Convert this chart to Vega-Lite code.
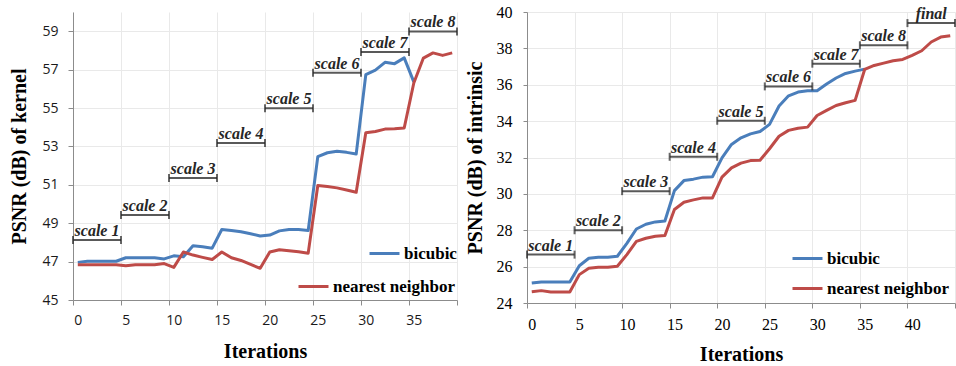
{
  "$schema": "https://vega.github.io/schema/vega-lite/v6.json",
  "background": "white",
  "padding": {"left": 9, "top": 4, "right": 0, "bottom": 0},
  "autosize": {"type": "pad"},
  "bounds": "flush",
  "spacing": 70,
  "resolve": {"scale": {"color": "independent"}},
  "config": {
    "view": {"stroke": null},
    "axis": {
      "domainColor": "#8c8c8c",
      "tickColor": "#8c8c8c",
      "gridColor": "#e9e9e9",
      "gridWidth": 1,
      "labelColor": "#1a1a1a",
      "titleFont": "Liberation Serif",
      "titleFontWeight": "bold",
      "titleFontSize": 20,
      "titleColor": "#000000",
      "labelOverlap": false,
      "labelFlush": false,
      "labelBound": false
    },
    "legend": {
      "title": null,
      "symbolType": "stroke",
      "symbolSize": 900,
      "symbolStrokeWidth": 3,
      "labelFont": "Liberation Serif",
      "labelFontWeight": "bold",
      "labelFontSize": 17,
      "labelColor": "#000000",
      "labelOffset": 3,
      "padding": 0,
      "orient": "none"
    }
  },
  "datasets": {
    "kernel": [
      {"iteration": 0, "method": "bicubic", "psnr": 46.96},
      {"iteration": 1, "method": "bicubic", "psnr": 47.02},
      {"iteration": 2, "method": "bicubic", "psnr": 47.02},
      {"iteration": 3, "method": "bicubic", "psnr": 47.02},
      {"iteration": 4, "method": "bicubic", "psnr": 47.02},
      {"iteration": 5, "method": "bicubic", "psnr": 47.2},
      {"iteration": 6, "method": "bicubic", "psnr": 47.2},
      {"iteration": 7, "method": "bicubic", "psnr": 47.2},
      {"iteration": 8, "method": "bicubic", "psnr": 47.2},
      {"iteration": 9, "method": "bicubic", "psnr": 47.14},
      {"iteration": 10, "method": "bicubic", "psnr": 47.3},
      {"iteration": 11, "method": "bicubic", "psnr": 47.25},
      {"iteration": 12, "method": "bicubic", "psnr": 47.82},
      {"iteration": 13, "method": "bicubic", "psnr": 47.77},
      {"iteration": 14, "method": "bicubic", "psnr": 47.7},
      {"iteration": 15, "method": "bicubic", "psnr": 48.67},
      {"iteration": 16, "method": "bicubic", "psnr": 48.62},
      {"iteration": 17, "method": "bicubic", "psnr": 48.55},
      {"iteration": 18, "method": "bicubic", "psnr": 48.45},
      {"iteration": 19, "method": "bicubic", "psnr": 48.33},
      {"iteration": 20, "method": "bicubic", "psnr": 48.38},
      {"iteration": 21, "method": "bicubic", "psnr": 48.6},
      {"iteration": 22, "method": "bicubic", "psnr": 48.67},
      {"iteration": 23, "method": "bicubic", "psnr": 48.67},
      {"iteration": 24, "method": "bicubic", "psnr": 48.62},
      {"iteration": 25, "method": "bicubic", "psnr": 52.47},
      {"iteration": 26, "method": "bicubic", "psnr": 52.67},
      {"iteration": 27, "method": "bicubic", "psnr": 52.75},
      {"iteration": 28, "method": "bicubic", "psnr": 52.69},
      {"iteration": 29, "method": "bicubic", "psnr": 52.6},
      {"iteration": 30, "method": "bicubic", "psnr": 56.74},
      {"iteration": 31, "method": "bicubic", "psnr": 56.97},
      {"iteration": 32, "method": "bicubic", "psnr": 57.38},
      {"iteration": 33, "method": "bicubic", "psnr": 57.31},
      {"iteration": 34, "method": "bicubic", "psnr": 57.61},
      {"iteration": 35, "method": "bicubic", "psnr": 56.36},
      {"iteration": 0, "method": "nearest neighbor", "psnr": 46.84},
      {"iteration": 1, "method": "nearest neighbor", "psnr": 46.84},
      {"iteration": 2, "method": "nearest neighbor", "psnr": 46.84},
      {"iteration": 3, "method": "nearest neighbor", "psnr": 46.84},
      {"iteration": 4, "method": "nearest neighbor", "psnr": 46.84},
      {"iteration": 5, "method": "nearest neighbor", "psnr": 46.78},
      {"iteration": 6, "method": "nearest neighbor", "psnr": 46.83},
      {"iteration": 7, "method": "nearest neighbor", "psnr": 46.84},
      {"iteration": 8, "method": "nearest neighbor", "psnr": 46.84},
      {"iteration": 9, "method": "nearest neighbor", "psnr": 46.9},
      {"iteration": 10, "method": "nearest neighbor", "psnr": 46.7},
      {"iteration": 11, "method": "nearest neighbor", "psnr": 47.5},
      {"iteration": 12, "method": "nearest neighbor", "psnr": 47.34},
      {"iteration": 13, "method": "nearest neighbor", "psnr": 47.22},
      {"iteration": 14, "method": "nearest neighbor", "psnr": 47.11},
      {"iteration": 15, "method": "nearest neighbor", "psnr": 47.5},
      {"iteration": 16, "method": "nearest neighbor", "psnr": 47.2},
      {"iteration": 17, "method": "nearest neighbor", "psnr": 47.06},
      {"iteration": 18, "method": "nearest neighbor", "psnr": 46.85},
      {"iteration": 19, "method": "nearest neighbor", "psnr": 46.65},
      {"iteration": 20, "method": "nearest neighbor", "psnr": 47.5},
      {"iteration": 21, "method": "nearest neighbor", "psnr": 47.62},
      {"iteration": 22, "method": "nearest neighbor", "psnr": 47.56},
      {"iteration": 23, "method": "nearest neighbor", "psnr": 47.51},
      {"iteration": 24, "method": "nearest neighbor", "psnr": 47.44},
      {"iteration": 25, "method": "nearest neighbor", "psnr": 50.96},
      {"iteration": 26, "method": "nearest neighbor", "psnr": 50.91},
      {"iteration": 27, "method": "nearest neighbor", "psnr": 50.84},
      {"iteration": 28, "method": "nearest neighbor", "psnr": 50.73},
      {"iteration": 29, "method": "nearest neighbor", "psnr": 50.61},
      {"iteration": 30, "method": "nearest neighbor", "psnr": 53.71},
      {"iteration": 31, "method": "nearest neighbor", "psnr": 53.78},
      {"iteration": 32, "method": "nearest neighbor", "psnr": 53.9},
      {"iteration": 33, "method": "nearest neighbor", "psnr": 53.92},
      {"iteration": 34, "method": "nearest neighbor", "psnr": 53.96},
      {"iteration": 35, "method": "nearest neighbor", "psnr": 56.3},
      {"iteration": 36, "method": "nearest neighbor", "psnr": 57.6},
      {"iteration": 37, "method": "nearest neighbor", "psnr": 57.87},
      {"iteration": 38, "method": "nearest neighbor", "psnr": 57.74},
      {"iteration": 39, "method": "nearest neighbor", "psnr": 57.87}
    ],
    "intrinsic": [
      {"iteration": 0, "method": "bicubic", "psnr": 25.1},
      {"iteration": 1, "method": "bicubic", "psnr": 25.16},
      {"iteration": 2, "method": "bicubic", "psnr": 25.16},
      {"iteration": 3, "method": "bicubic", "psnr": 25.16},
      {"iteration": 4, "method": "bicubic", "psnr": 25.16},
      {"iteration": 5, "method": "bicubic", "psnr": 26.05},
      {"iteration": 6, "method": "bicubic", "psnr": 26.46},
      {"iteration": 7, "method": "bicubic", "psnr": 26.51},
      {"iteration": 8, "method": "bicubic", "psnr": 26.51},
      {"iteration": 9, "method": "bicubic", "psnr": 26.57},
      {"iteration": 10, "method": "bicubic", "psnr": 27.28},
      {"iteration": 11, "method": "bicubic", "psnr": 28.07},
      {"iteration": 12, "method": "bicubic", "psnr": 28.33},
      {"iteration": 13, "method": "bicubic", "psnr": 28.46},
      {"iteration": 14, "method": "bicubic", "psnr": 28.51},
      {"iteration": 15, "method": "bicubic", "psnr": 30.18},
      {"iteration": 16, "method": "bicubic", "psnr": 30.73},
      {"iteration": 17, "method": "bicubic", "psnr": 30.81},
      {"iteration": 18, "method": "bicubic", "psnr": 30.92},
      {"iteration": 19, "method": "bicubic", "psnr": 30.94},
      {"iteration": 20, "method": "bicubic", "psnr": 31.98},
      {"iteration": 21, "method": "bicubic", "psnr": 32.72},
      {"iteration": 22, "method": "bicubic", "psnr": 33.08},
      {"iteration": 23, "method": "bicubic", "psnr": 33.3},
      {"iteration": 24, "method": "bicubic", "psnr": 33.43},
      {"iteration": 25, "method": "bicubic", "psnr": 33.82},
      {"iteration": 26, "method": "bicubic", "psnr": 34.83},
      {"iteration": 27, "method": "bicubic", "psnr": 35.39},
      {"iteration": 28, "method": "bicubic", "psnr": 35.6},
      {"iteration": 29, "method": "bicubic", "psnr": 35.67},
      {"iteration": 30, "method": "bicubic", "psnr": 35.67},
      {"iteration": 31, "method": "bicubic", "psnr": 36.04},
      {"iteration": 32, "method": "bicubic", "psnr": 36.37},
      {"iteration": 33, "method": "bicubic", "psnr": 36.62},
      {"iteration": 34, "method": "bicubic", "psnr": 36.75},
      {"iteration": 35, "method": "bicubic", "psnr": 36.86},
      {"iteration": 0, "method": "nearest neighbor", "psnr": 24.62},
      {"iteration": 1, "method": "nearest neighbor", "psnr": 24.68},
      {"iteration": 2, "method": "nearest neighbor", "psnr": 24.6},
      {"iteration": 3, "method": "nearest neighbor", "psnr": 24.6},
      {"iteration": 4, "method": "nearest neighbor", "psnr": 24.6},
      {"iteration": 5, "method": "nearest neighbor", "psnr": 25.56},
      {"iteration": 6, "method": "nearest neighbor", "psnr": 25.91},
      {"iteration": 7, "method": "nearest neighbor", "psnr": 25.96},
      {"iteration": 8, "method": "nearest neighbor", "psnr": 25.96},
      {"iteration": 9, "method": "nearest neighbor", "psnr": 26.02},
      {"iteration": 10, "method": "nearest neighbor", "psnr": 26.66},
      {"iteration": 11, "method": "nearest neighbor", "psnr": 27.39},
      {"iteration": 12, "method": "nearest neighbor", "psnr": 27.56},
      {"iteration": 13, "method": "nearest neighbor", "psnr": 27.67},
      {"iteration": 14, "method": "nearest neighbor", "psnr": 27.71},
      {"iteration": 15, "method": "nearest neighbor", "psnr": 29.14},
      {"iteration": 16, "method": "nearest neighbor", "psnr": 29.54},
      {"iteration": 17, "method": "nearest neighbor", "psnr": 29.67},
      {"iteration": 18, "method": "nearest neighbor", "psnr": 29.78},
      {"iteration": 19, "method": "nearest neighbor", "psnr": 29.78},
      {"iteration": 20, "method": "nearest neighbor", "psnr": 30.92},
      {"iteration": 21, "method": "nearest neighbor", "psnr": 31.43},
      {"iteration": 22, "method": "nearest neighbor", "psnr": 31.69},
      {"iteration": 23, "method": "nearest neighbor", "psnr": 31.83},
      {"iteration": 24, "method": "nearest neighbor", "psnr": 31.85},
      {"iteration": 25, "method": "nearest neighbor", "psnr": 32.48},
      {"iteration": 26, "method": "nearest neighbor", "psnr": 33.17},
      {"iteration": 27, "method": "nearest neighbor", "psnr": 33.49},
      {"iteration": 28, "method": "nearest neighbor", "psnr": 33.61},
      {"iteration": 29, "method": "nearest neighbor", "psnr": 33.67},
      {"iteration": 30, "method": "nearest neighbor", "psnr": 34.31},
      {"iteration": 31, "method": "nearest neighbor", "psnr": 34.59},
      {"iteration": 32, "method": "nearest neighbor", "psnr": 34.86},
      {"iteration": 33, "method": "nearest neighbor", "psnr": 35.01},
      {"iteration": 34, "method": "nearest neighbor", "psnr": 35.14},
      {"iteration": 35, "method": "nearest neighbor", "psnr": 36.84},
      {"iteration": 36, "method": "nearest neighbor", "psnr": 37.06},
      {"iteration": 37, "method": "nearest neighbor", "psnr": 37.19},
      {"iteration": 38, "method": "nearest neighbor", "psnr": 37.32},
      {"iteration": 39, "method": "nearest neighbor", "psnr": 37.39},
      {"iteration": 40, "method": "nearest neighbor", "psnr": 37.61},
      {"iteration": 41, "method": "nearest neighbor", "psnr": 37.87},
      {"iteration": 42, "method": "nearest neighbor", "psnr": 38.35},
      {"iteration": 43, "method": "nearest neighbor", "psnr": 38.62},
      {"iteration": 44, "method": "nearest neighbor", "psnr": 38.7}
    ],
    "kernelStages": [
      {"stage": "scale 1", "from": -0.5, "to": 4.5, "level": 48.13},
      {"stage": "scale 2", "from": 4.5, "to": 9.5, "level": 49.43},
      {"stage": "scale 3", "from": 9.5, "to": 14.5, "level": 51.36},
      {"stage": "scale 4", "from": 14.5, "to": 19.5, "level": 53.18},
      {"stage": "scale 5", "from": 19.5, "to": 24.5, "level": 54.99},
      {"stage": "scale 6", "from": 24.5, "to": 29.5, "level": 56.84},
      {"stage": "scale 7", "from": 29.5, "to": 34.5, "level": 57.92},
      {"stage": "scale 8", "from": 34.5, "to": 39.5, "level": 58.99}
    ],
    "intrinsicStages": [
      {"stage": "scale 1", "from": -0.5, "to": 4.5, "level": 26.66},
      {"stage": "scale 2", "from": 4.5, "to": 9.5, "level": 28.0},
      {"stage": "scale 3", "from": 9.5, "to": 14.5, "level": 30.15},
      {"stage": "scale 4", "from": 14.5, "to": 19.5, "level": 32.04},
      {"stage": "scale 5", "from": 19.5, "to": 24.5, "level": 34.02},
      {"stage": "scale 6", "from": 24.5, "to": 29.5, "level": 35.91},
      {"stage": "scale 7", "from": 29.5, "to": 34.5, "level": 37.16},
      {"stage": "scale 8", "from": 34.5, "to": 39.5, "level": 38.17},
      {"stage": "final", "from": 39.5, "to": 44.5, "level": 39.39}
    ]
  },
  "hconcat": [
    {
      "width": 384,
      "height": 288,
      "layer": [
        {
          "data": {"name": "kernel"},
          "transform": [{"filter": "datum.method === 'bicubic'"}],
          "mark": {"type": "line", "strokeWidth": 3, "strokeJoin": "round"},
          "encoding": {
            "x": {
              "field": "iteration", "type": "quantitative",
              "scale": {"domain": [-0.5, 39.5], "nice": false, "zero": false},
              "axis": {
                "title": "Iterations",
                "values": [-0.5, 4.5, 9.5, 14.5, 19.5, 24.5, 29.5, 34.5, 39.5],
                "labelExpr": "datum.value < 39 ? format(datum.value + 0.5, 'd') : ''",
                "labelOffset": 4.8,
                "labelOverlap": false,
                "grid": true,
                "tickSize": 5,
                "labelPadding": 8,
                "labelFont": "Open Sans",
                "labelFontSize": 14,
                "titlePadding": 14
              }
            },
            "y": {
              "field": "psnr", "type": "quantitative",
              "scale": {"domain": [45, 60], "nice": false, "zero": false},
              "axis": {
                "title": "PSNR (dB) of kernel",
                "values": [45, 47, 49, 51, 53, 55, 57, 59],
                "labelOverlap": false,
                "grid": true,
                "tickSize": 5,
                "labelPadding": 10,
                "labelFont": "Open Sans",
                "labelFontSize": 14,
                "titlePadding": 12
              }
            },
            "color": {
              "field": "method", "type": "nominal",
              "scale": {"domain": ["bicubic"], "range": ["#4a7ebb"]},
              "legend": {"legendX": 295, "legendY": 225}
            }
          }
        },
        {
          "data": {"name": "kernel"},
          "transform": [{"filter": "datum.method === 'nearest neighbor'"}],
          "mark": {"type": "line", "strokeWidth": 3, "strokeJoin": "round"},
          "encoding": {
            "x": {"field": "iteration", "type": "quantitative"},
            "y": {"field": "psnr", "type": "quantitative"},
            "color": {
              "field": "method", "type": "nominal",
              "scale": {"domain": ["nearest neighbor"], "range": ["#be4b48"]},
              "legend": {"legendX": 224, "legendY": 258}
            }
          }
        },
        {
          "data": {"name": "kernelStages"},
          "mark": {"type": "rule", "color": "#595959", "strokeWidth": 2},
          "encoding": {
            "x": {"field": "from", "type": "quantitative"},
            "x2": {"field": "to"},
            "y": {"field": "level", "type": "quantitative"}
          }
        },
        {
          "data": {"name": "kernelStages"},
          "mark": {"type": "tick", "orient": "vertical", "size": 8, "thickness": 2, "color": "#262626"},
          "encoding": {
            "x": {"field": "from", "type": "quantitative"},
            "y": {"field": "level", "type": "quantitative"}
          }
        },
        {
          "data": {"name": "kernelStages"},
          "mark": {"type": "tick", "orient": "vertical", "size": 8, "thickness": 2, "color": "#262626"},
          "encoding": {
            "x": {"field": "to", "type": "quantitative"},
            "y": {"field": "level", "type": "quantitative"}
          }
        },
        {
          "data": {"name": "kernelStages"},
          "transform": [{"calculate": "(datum.from + datum.to) / 2", "as": "middle"}],
          "mark": {"type": "text", "font": "Liberation Serif", "fontWeight": "bold", "fontStyle": "italic", "fontSize": 16, "color": "#262626", "baseline": "alphabetic", "align": "center", "dy": -4},
          "encoding": {
            "x": {"field": "middle", "type": "quantitative"},
            "y": {"field": "level", "type": "quantitative"},
            "text": {"field": "stage"}
          }
        }
      ],
      "resolve": {"scale": {"color": "independent"}}
    },
    {
      "width": 428,
      "height": 291,
      "layer": [
        {
          "data": {"name": "intrinsic"},
          "transform": [{"filter": "datum.method === 'bicubic'"}],
          "mark": {"type": "line", "strokeWidth": 3, "strokeJoin": "round"},
          "encoding": {
            "x": {
              "field": "iteration", "type": "quantitative",
              "scale": {"domain": [-0.5, 44.5], "nice": false, "zero": false},
              "axis": {
                "title": "Iterations",
                "values": [-0.5, 4.5, 9.5, 14.5, 19.5, 24.5, 29.5, 34.5, 39.5, 44.5],
                "labelExpr": "datum.value < 44 ? format(datum.value + 0.5, 'd') : ''",
                "labelOffset": 4.8,
                "labelOverlap": false,
                "grid": true,
                "tickSize": 5,
                "labelPadding": 8,
                "labelFont": "Liberation Serif",
                "labelFontSize": 16,
                "labelColor": "#000000",
                "titlePadding": 12
              }
            },
            "y": {
              "field": "psnr", "type": "quantitative",
              "scale": {"domain": [24, 40], "nice": false, "zero": false},
              "axis": {
                "title": "PSNR (dB) of intrinsic",
                "values": [24, 26, 28, 30, 32, 34, 36, 38, 40],
                "tickCount": 9,
                "labelOverlap": false,
                "labelSeparation": 0,
                "grid": true,
                "tickSize": 4,
                "labelPadding": 11,
                "labelFont": "Liberation Serif",
                "labelFontSize": 16,
                "labelColor": "#000000",
                "titlePadding": 11
              }
            },
            "color": {
              "field": "method", "type": "nominal",
              "scale": {"domain": ["bicubic"], "range": ["#4a7ebb"]},
              "legend": {"legendX": 264, "legendY": 230}
            }
          }
        },
        {
          "data": {"name": "intrinsic"},
          "transform": [{"filter": "datum.method === 'nearest neighbor'"}],
          "mark": {"type": "line", "strokeWidth": 3, "strokeJoin": "round"},
          "encoding": {
            "x": {"field": "iteration", "type": "quantitative"},
            "y": {"field": "psnr", "type": "quantitative"},
            "color": {
              "field": "method", "type": "nominal",
              "scale": {"domain": ["nearest neighbor"], "range": ["#be4b48"]},
              "legend": {"legendX": 264, "legendY": 260}
            }
          }
        },
        {
          "data": {"name": "intrinsicStages"},
          "mark": {"type": "rule", "color": "#595959", "strokeWidth": 2},
          "encoding": {
            "x": {"field": "from", "type": "quantitative"},
            "x2": {"field": "to"},
            "y": {"field": "level", "type": "quantitative"}
          }
        },
        {
          "data": {"name": "intrinsicStages"},
          "mark": {"type": "tick", "orient": "vertical", "size": 8, "thickness": 2, "color": "#262626"},
          "encoding": {
            "x": {"field": "from", "type": "quantitative"},
            "y": {"field": "level", "type": "quantitative"}
          }
        },
        {
          "data": {"name": "intrinsicStages"},
          "mark": {"type": "tick", "orient": "vertical", "size": 8, "thickness": 2, "color": "#262626"},
          "encoding": {
            "x": {"field": "to", "type": "quantitative"},
            "y": {"field": "level", "type": "quantitative"}
          }
        },
        {
          "data": {"name": "intrinsicStages"},
          "transform": [{"calculate": "(datum.from + datum.to) / 2", "as": "middle"}],
          "mark": {"type": "text", "font": "Liberation Serif", "fontWeight": "bold", "fontStyle": "italic", "fontSize": 16, "color": "#262626", "baseline": "alphabetic", "align": "center", "dy": -4},
          "encoding": {
            "x": {"field": "middle", "type": "quantitative"},
            "y": {"field": "level", "type": "quantitative"},
            "text": {"field": "stage"}
          }
        }
      ],
      "resolve": {"scale": {"color": "independent"}}
    }
  ]
}
